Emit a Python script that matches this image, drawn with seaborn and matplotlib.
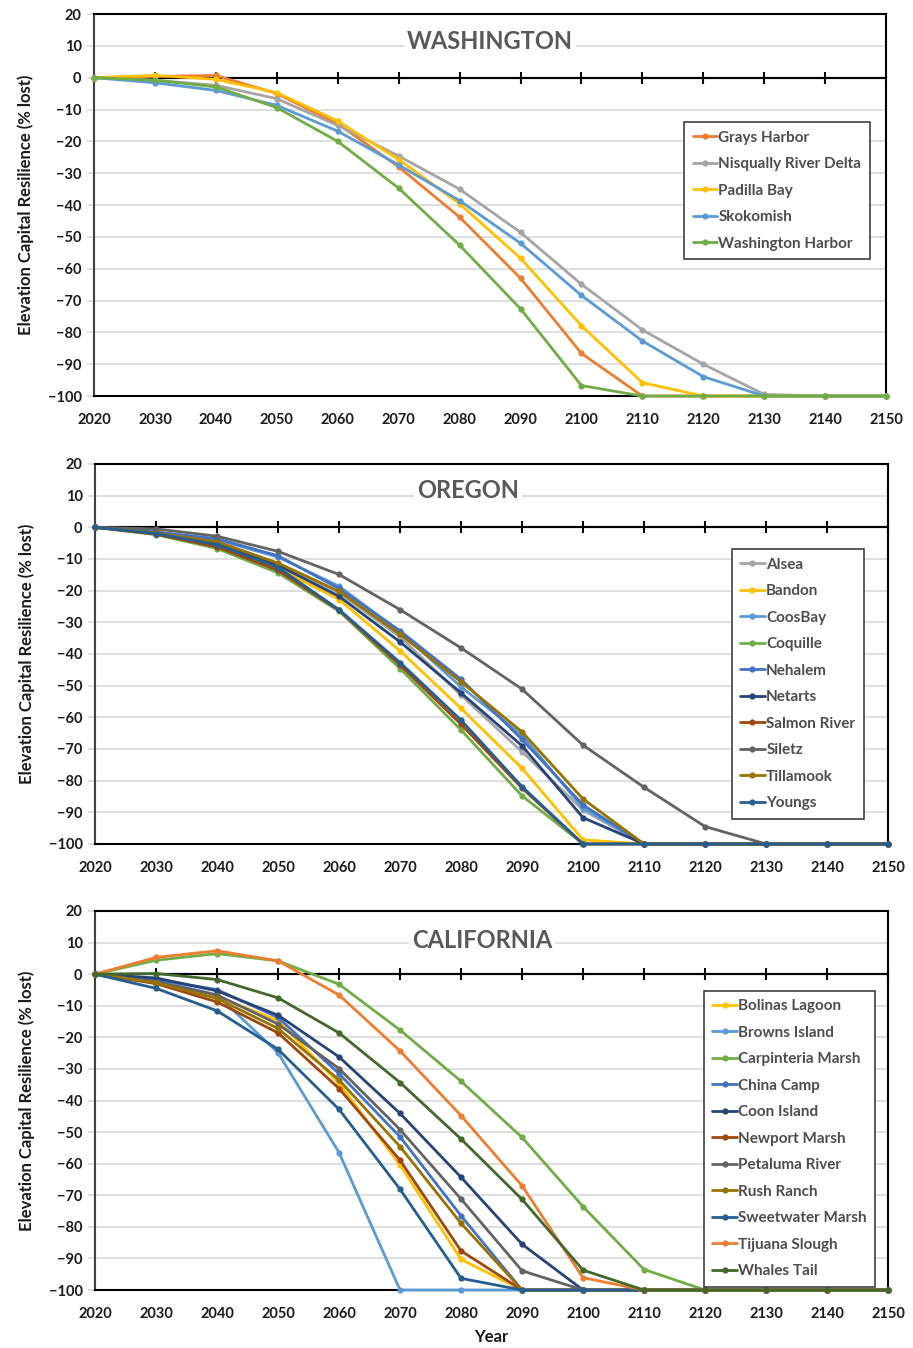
import numpy as np
import pandas as pd
import seaborn as sns
import matplotlib.pyplot as plt

# years on the x axis
years = [2020, 2030, 2040, 2050, 2060, 2070, 2080, 2090, 2100, 2110, 2120, 2130, 2140, 2150]

# Washington (% lost)
grays_harbor = [0, 0.4, 0.7, -5, -14.5, -28, -43.8, -63, -86.6, -100, -100, -100, -100, -100]
nisqually = [0, -0.8, -2.4, -6.6, -15, -24.6, -35, -48.6, -64.9, -79.2, -90, -99.5, -100, -100]
padilla_bay = [0, 0.7, -0.5, -4.7, -13.6, -25.7, -39.6, -56.7, -77.9, -95.8, -100, -100, -100, -100]
skokomish = [0, -1.6, -4, -8.7, -16.8, -27.4, -38.6, -52, -68.4, -82.7, -93.9, -100, -100, -100]
washington_harbor = [0, -0.8, -2.9, -9.4, -20, -34.7, -52.6, -72.6, -96.7, -100, -100, -100, -100, -100]

# Oregon
alsea = [0, -1.5, -4.5, -11.5, -20.7, -34.6, -53, -70.9, -89.3, -100, -100, -100, -100, -100]
bandon = [0, -2, -5.7, -13, -22.8, -39, -57.2, -76.1, -98.7, -100, -100, -100, -100, -100]
coosbay = [0, -1.5, -3.9, -9.4, -18.6, -33, -50.4, -65.6, -88.7, -100, -100, -100, -100, -100]
coquille = [0, -2.3, -6.7, -14.4, -26.5, -44.6, -64, -84.8, -100, -100, -100, -100, -100, -100]
nehalem = [0, -1.5, -3.6, -9, -19.3, -32.7, -48, -67, -87.7, -100, -100, -100, -100, -100]
netarts = [0, -1.8, -5.2, -12, -21.8, -36.2, -52.3, -69, -91.7, -100, -100, -100, -100, -100]
salmon_river = [0, -2.2, -6.2, -13.6, -26.2, -43.5, -62.2, -82.4, -100, -100, -100, -100, -100, -100]
siletz = [0, -0.5, -2.8, -7.6, -14.9, -26, -38.1, -51.1, -68.8, -82.1, -94.5, -100, -100, -100]
tillamook = [0, -1.8, -4.6, -11.3, -20.2, -33.8, -48.8, -64.6, -85.8, -100, -100, -100, -100, -100]
youngs = [0, -2, -5.5, -12.7, -26, -42.7, -60.9, -81.9, -100, -100, -100, -100, -100, -100]

# California
bolinas = [0, -2.6, -7.2, -14.6, -34.6, -60.4, -90.3, -100, -100, -100, -100, -100, -100, -100]
browns_island = [0, -1.9, -6.6, -24.9, -56.5, -100, -100, -100, -100, -100, -100, -100, -100, -100]
carpinteria = [0, 4.4, 6.5, 4.2, -3.2, -17.7, -33.9, -51.7, -73.6, -93.5, -100, -100, -100, -100]
china_camp = [0, -1.7, -4.9, -13.7, -31.5, -51.5, -76.5, -100, -100, -100, -100, -100, -100, -100]
coon_island = [0, -1.2, -5.3, -13, -26.2, -44.1, -64.3, -85.5, -100, -100, -100, -100, -100, -100]
newport = [0, -3, -8.8, -18.6, -36.2, -58.9, -87.6, -100, -100, -100, -100, -100, -100, -100]
petaluma = [0, -2.4, -6.6, -15.8, -29.9, -49.2, -71.2, -93.9, -100, -100, -100, -100, -100, -100]
rush_ranch = [0, -2.7, -7.7, -17.2, -33.5, -54.6, -78.9, -100, -100, -100, -100, -100, -100, -100]
sweetwater = [0, -4.5, -11.6, -23.8, -42.8, -68.1, -96.3, -100, -100, -100, -100, -100, -100, -100]
tijuana = [0, 5.3, 7.4, 4.2, -6.6, -24.3, -44.8, -67, -96.1, -100, -100, -100, -100, -100]
whales_tail = [0, 0.2, -1.7, -7.5, -18.6, -34.3, -52.2, -71.3, -93.7, -100, -100, -100, -100, -100]

# excel-ish palette
BLUE, ORANGE, GRAY, GOLD, LBLUE, GREEN = "#4472C4", "#ED7D31", "#A5A5A5", "#FFC000", "#5B9BD5", "#70AD47"
NAVY, BROWN, DGRAY, OLIVE, DBLUE, DGREEN = "#264478", "#9E480E", "#636363", "#997300", "#255E91", "#43682B"

wa_series = [
    ("Grays Harbor", grays_harbor, ORANGE),
    ("Nisqually River Delta", nisqually, GRAY),
    ("Padilla Bay", padilla_bay, GOLD),
    ("Skokomish", skokomish, LBLUE),
    ("Washington Harbor", washington_harbor, GREEN),
]
or_series = [
    ("Alsea", alsea, GRAY),
    ("Bandon", bandon, GOLD),
    ("CoosBay", coosbay, LBLUE),
    ("Coquille", coquille, GREEN),
    ("Nehalem", nehalem, BLUE),
    ("Netarts", netarts, NAVY),
    ("Salmon River", salmon_river, BROWN),
    ("Siletz", siletz, DGRAY),
    ("Tillamook", tillamook, OLIVE),
    ("Youngs", youngs, DBLUE),
]
ca_series = [
    ("Bolinas Lagoon", bolinas, GOLD),
    ("Browns Island", browns_island, LBLUE),
    ("Carpinteria Marsh", carpinteria, GREEN),
    ("China Camp", china_camp, BLUE),
    ("Coon Island", coon_island, NAVY),
    ("Newport Marsh", newport, BROWN),
    ("Petaluma River", petaluma, DGRAY),
    ("Rush Ranch", rush_ranch, OLIVE),
    ("Sweetwater Marsh", sweetwater, DBLUE),
    ("Tijuana Slough", tijuana, ORANGE),
    ("Whales Tail", whales_tail, DGREEN),
]

sns.set_theme(style="white")
plt.rcParams["font.family"] = ["Lato", "DejaVu Sans"]

fig = plt.figure(figsize=(9.13, 13.48), dpi=100)

panels = [
    # series, title, rect, title pos, legend anchor
    (wa_series, "WASHINGTON", [0.1030, 0.7062, 0.8675, 0.2834], (0.50, 0.927), (0.745, 0.717)),
    (or_series, "OREGON", [0.1041, 0.3739, 0.8686, 0.2819], (0.47, 0.929), (0.803, 0.776)),
    (ca_series, "CALIFORNIA", [0.1041, 0.0430, 0.8686, 0.2812], (0.488, 0.921), (0.768, 0.790)),
]

for i, (series, title, rect, tpos, lpos) in enumerate(panels):
    ax = fig.add_axes(rect)
    for name, vals, col in series:
        df = pd.DataFrame({"Year": years, "value": vals})
        sns.lineplot(data=df, x="Year", y="value", color=col, marker="o", markersize=4.5,
                     markeredgewidth=0, linewidth=2, label=name, ax=ax,
                     clip_on=False, zorder=3)

    ax.set_xlim(2020, 2150)
    ax.set_ylim(-100, 20)
    ax.set_xticks(range(2020, 2151, 10))
    ax.set_yticks(range(-100, 21, 10))
    ax.yaxis.grid(True, color="#D9D9D9", linewidth=1.2)
    ax.xaxis.grid(False)
    for s in ax.spines.values():
        s.set_visible(True)
        s.set_color("black")
        s.set_linewidth(1.5)
    ax.spines["left"].set_color("#404040")
    ax.tick_params(axis="x", length=0, pad=12, labelsize=10.5, labelcolor="#1a1a1a")
    ax.tick_params(axis="y", left=True, length=5, width=1.2, color="#D9D9D9", pad=4,
                   labelsize=10.5, labelcolor="#1a1a1a")
    for lab in ax.get_xticklabels() + ax.get_yticklabels():
        lab.set_fontweight("bold")

    # horizontal axis crossing at 0, with cross ticks
    ax.axhline(0, color="black", linewidth=1.5, zorder=2.6)
    sec = ax.secondary_xaxis((0 - (-100)) / 120)
    sec.set_xticks(range(2020, 2151, 10))
    sec.set_xticklabels([])
    sec.tick_params(direction="inout", length=9, width=1.5, color="black",
                    labelbottom=False, labeltop=False)
    for s in sec.spines.values():
        s.set_linewidth(1.5)
        s.set_color("black")

    ax.set_ylabel("Elevation Capital Resilience (% lost)", fontsize=12, fontweight="bold",
                  color="#1a1a1a", labelpad=10)
    if i == 2:
        ax.set_xlabel("Year", fontsize=12, fontweight="bold", color="#1a1a1a", labelpad=6)
    else:
        ax.set_xlabel("")

    ax.text(tpos[0], tpos[1], title, transform=ax.transAxes, ha="center", va="center",
            fontsize=17, fontweight="bold", color="#595959", zorder=5,
            bbox=dict(facecolor="white", edgecolor="none", pad=2))

    leg = ax.legend(loc="upper left", bbox_to_anchor=lpos, borderaxespad=0, frameon=True,
                    fancybox=False, edgecolor="#404040", framealpha=1,
                    prop={"weight": "bold", "size": 11}, labelspacing=0.82,
                    handlelength=1.6, handletextpad=0.1, borderpad=0.55)
    leg.get_frame().set_linewidth(1.2)
    leg.set_zorder(6)
    for t in leg.get_texts():
        t.set_color("#4d4d4d")

fig.savefig("out.png", dpi=100)
